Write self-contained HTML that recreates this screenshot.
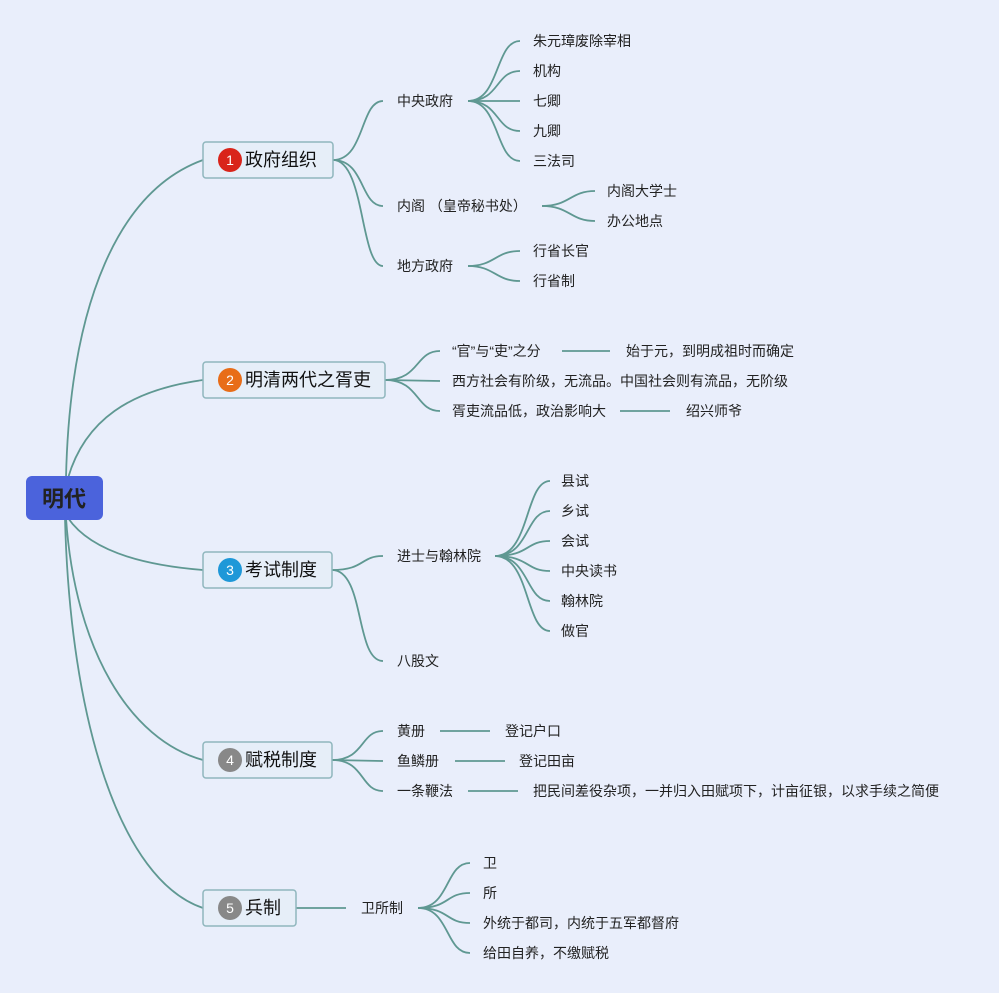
<!DOCTYPE html>
<html><head><meta charset="utf-8"><style>
html,body{margin:0;padding:0;background:#e9eefb;}
svg{display:block}
text{font-family:"Liberation Sans","Noto Sans CJK SC",sans-serif;fill:#222;}
.s{font-size:14px;dominant-baseline:central}
.m{font-size:18px;dominant-baseline:central;fill:#111}
.b{font-size:14px;fill:#fff;dominant-baseline:central;text-anchor:middle}
path{fill:none;stroke:#5f9892;stroke-width:1.8}
rect.n{fill:#e6eef8;stroke:#8fb6bd;stroke-width:1.5}
</style></head><body>
<svg width="999" height="993" viewBox="0 0 999 993" xmlns="http://www.w3.org/2000/svg">
<path d="M66 478 C70 300 120 190 203 160"/>
<path d="M68 478 C85 420 130 390 203 380"/>
<path d="M68 518 C90 550 140 565 203 570"/>
<path d="M66 518 C75 650 130 740 203 760"/>
<path d="M65 518 C70 720 120 880 203 908"/>
<path d="M333 160 C365 160 360 101 383 101"/>
<path d="M333 160 C365 160 360 206 383 206"/>
<path d="M333 160 C365 160 360 266 383 266"/>
<path d="M468 101 C500 101 495 41 520 41"/>
<path d="M468 101 C500 101 495 71 520 71"/>
<path d="M468 101 L520 101"/>
<path d="M468 101 C500 101 495 131 520 131"/>
<path d="M468 101 C500 101 495 161 520 161"/>
<path d="M542 206 C570 206 570 191 595 191"/>
<path d="M542 206 C570 206 570 221 595 221"/>
<path d="M468 266 C495 266 495 251 520 251"/>
<path d="M468 266 C495 266 495 281 520 281"/>
<path d="M385 380 C420 380 415 351 440 351"/>
<path d="M385 380 L440 381"/>
<path d="M385 380 C420 380 415 411 440 411"/>
<path d="M562 351 L610 351"/>
<path d="M620 411 L670 411"/>
<path d="M332 570 C365 570 360 556 383 556"/>
<path d="M332 570 C365 570 355 661 383 661"/>
<path d="M495 556 C530 556 525 481 550 481"/>
<path d="M495 556 C530 556 525 511 550 511"/>
<path d="M495 556 C530 556 525 541 550 541"/>
<path d="M495 556 C530 556 525 571 550 571"/>
<path d="M495 556 C530 556 525 601 550 601"/>
<path d="M495 556 C530 556 525 631 550 631"/>
<path d="M332 760 C365 760 360 731 383 731"/>
<path d="M332 760 L383 761"/>
<path d="M332 760 C365 760 360 791 383 791"/>
<path d="M440 731 L490 731"/>
<path d="M455 761 L505 761"/>
<path d="M468 791 L518 791"/>
<path d="M296 908 L346 908"/>
<path d="M418 908 C450 908 445 863 470 863"/>
<path d="M418 908 C450 908 445 893 470 893"/>
<path d="M418 908 C450 908 445 923 470 923"/>
<path d="M418 908 C450 908 445 953 470 953"/>

<rect x="26" y="476" width="77" height="44" rx="6" fill="#4b63dc"/>
<text x="64" y="499" font-size="22" font-weight="bold" text-anchor="middle" dominant-baseline="central" fill="#111">明代</text>

<rect class="n" x="203" y="142" width="130" height="36" rx="3"/>
<circle cx="230" cy="160" r="12" fill="#d9241a"/><text class="b" x="230" y="160">1</text>
<text class="m" x="245" y="160">政府组织</text>
<rect class="n" x="203" y="362" width="182" height="36" rx="3"/>
<circle cx="230" cy="380" r="12" fill="#e86d18"/><text class="b" x="230" y="380">2</text>
<text class="m" x="245" y="380">明清两代之胥吏</text>
<rect class="n" x="203" y="552" width="129" height="36" rx="3"/>
<circle cx="230" cy="570" r="12" fill="#1e98d8"/><text class="b" x="230" y="570">3</text>
<text class="m" x="245" y="570">考试制度</text>
<rect class="n" x="203" y="742" width="129" height="36" rx="3"/>
<circle cx="230" cy="760" r="12" fill="#888"/><text class="b" x="230" y="760">4</text>
<text class="m" x="245" y="760">赋税制度</text>
<rect class="n" x="203" y="890" width="93" height="36" rx="3"/>
<circle cx="230" cy="908" r="12" fill="#888"/><text class="b" x="230" y="908">5</text>
<text class="m" x="245" y="908">兵制</text>

<text class="s" x="397" y="101">中央政府</text>
<text class="s" x="533" y="41">朱元璋废除宰相</text>
<text class="s" x="533" y="71">机构</text>
<text class="s" x="533" y="101">七卿</text>
<text class="s" x="533" y="131">九卿</text>
<text class="s" x="533" y="161">三法司</text>
<text class="s" x="397" y="206">内阁 （皇帝秘书处）</text>
<text class="s" x="607" y="191">内阁大学士</text>
<text class="s" x="607" y="221">办公地点</text>
<text class="s" x="397" y="266">地方政府</text>
<text class="s" x="533" y="251">行省长官</text>
<text class="s" x="533" y="281">行省制</text>

<text class="s" x="452" y="351">“官”与“吏”之分</text>
<text class="s" x="626" y="351">始于元，到明成祖时而确定</text>
<text class="s" x="452" y="381">西方社会有阶级，无流品。中国社会则有流品，无阶级</text>
<text class="s" x="452" y="411">胥吏流品低，政治影响大</text>
<text class="s" x="686" y="411">绍兴师爷</text>

<text class="s" x="397" y="556">进士与翰林院</text>
<text class="s" x="561" y="481">县试</text>
<text class="s" x="561" y="511">乡试</text>
<text class="s" x="561" y="541">会试</text>
<text class="s" x="561" y="571">中央读书</text>
<text class="s" x="561" y="601">翰林院</text>
<text class="s" x="561" y="631">做官</text>
<text class="s" x="397" y="661">八股文</text>

<text class="s" x="397" y="731">黄册</text>
<text class="s" x="505" y="731">登记户口</text>
<text class="s" x="397" y="761">鱼鳞册</text>
<text class="s" x="519" y="761">登记田亩</text>
<text class="s" x="397" y="791">一条鞭法</text>
<text class="s" x="533" y="791">把民间差役杂项，一并归入田赋项下，计亩征银，以求手续之简便</text>

<text class="s" x="361" y="908">卫所制</text>
<text class="s" x="483" y="863">卫</text>
<text class="s" x="483" y="893">所</text>
<text class="s" x="483" y="923">外统于都司，内统于五军都督府</text>
<text class="s" x="483" y="953">给田自养，不缴赋税</text>
</svg>
</body></html>
